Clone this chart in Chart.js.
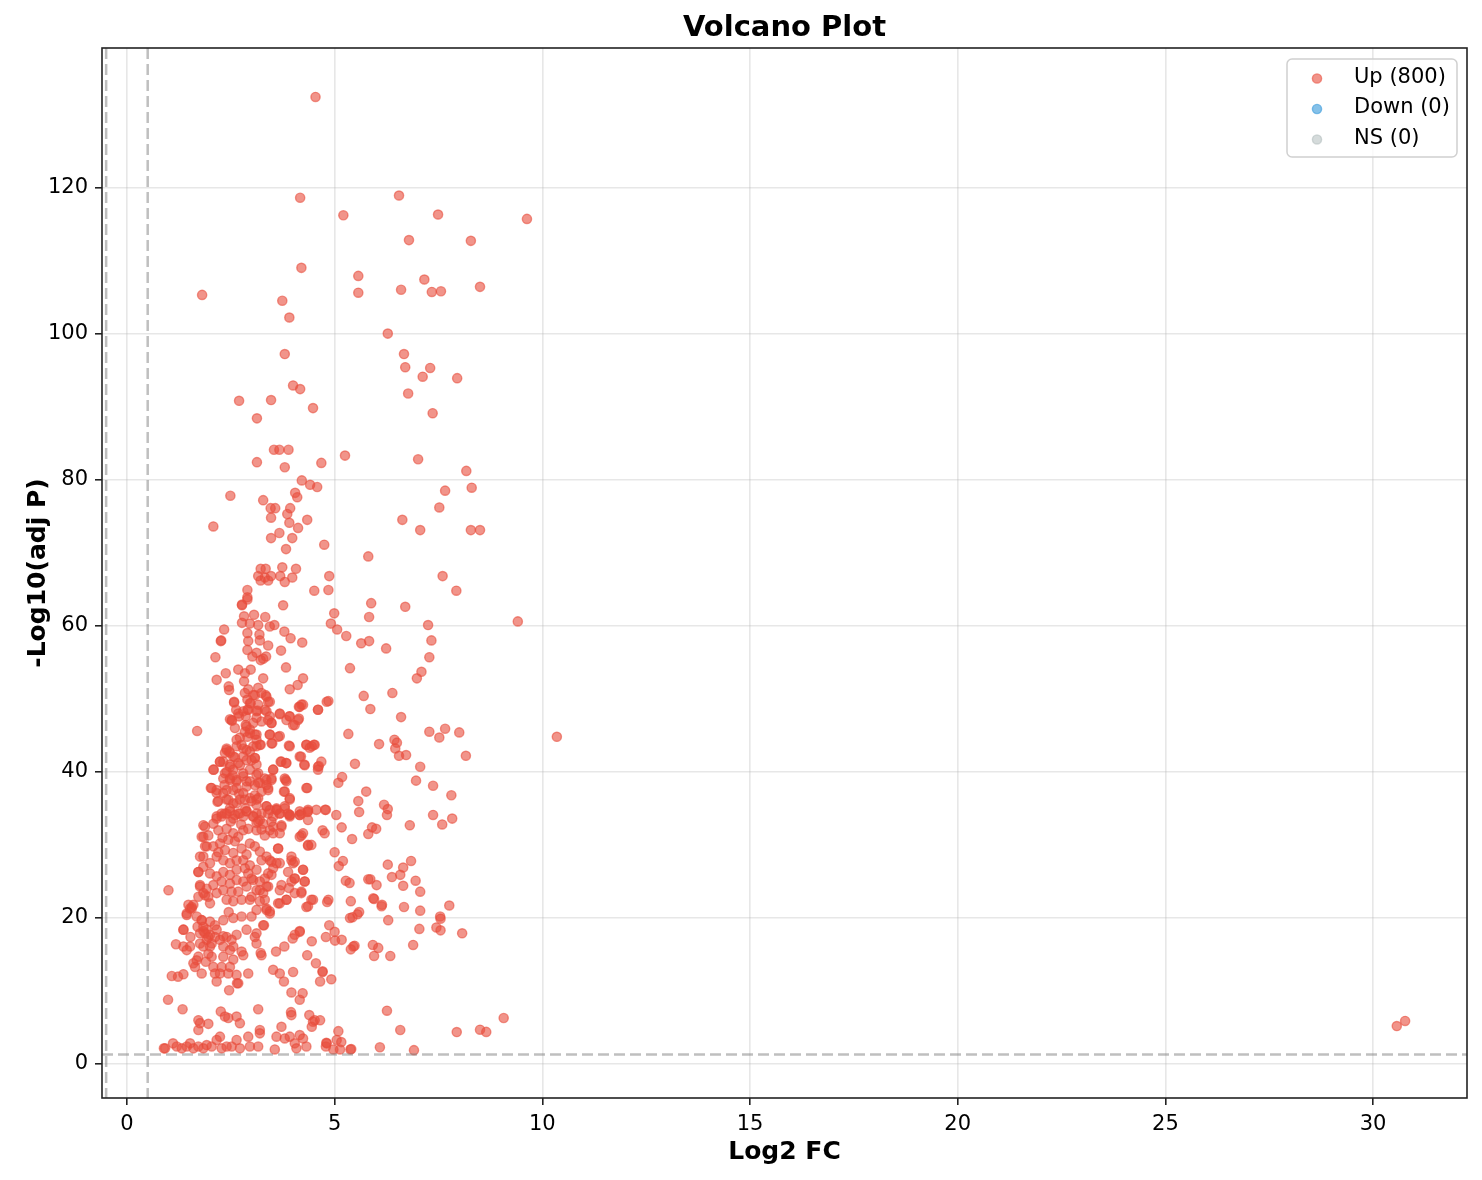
<!DOCTYPE html>
<html>
<head>
<meta charset="utf-8">
<title>Volcano Plot</title>
<script src="https://cdn.jsdelivr.net/npm/chart.js@4.4.1/dist/chart.umd.min.js"></script>
<style>
  html, body { margin: 0; padding: 0; background: #fff; }
  #wrap { width: 1482px; height: 1180px; }
</style>
</head>
<body>
<div id="wrap"><canvas id="volcano" width="1482" height="1180"></canvas></div>
<script>
// [log2 fold change, -log10 adjusted p]
const upPoints = [
  // top of the plot
  [4.54,132.4],[4.17,118.6],[6.55,118.9],[5.21,116.2],[7.49,116.3],[9.63,115.7],[6.79,112.8],[8.28,112.7],
  [4.2,109.0],[5.57,107.9],[1.81,105.3],[3.74,104.5],[5.57,105.6],[6.6,106.0],[7.16,107.4],[7.34,105.7],
  [7.56,105.8],[8.5,106.4],[3.91,102.2],[6.28,100.0],[3.8,97.2],[6.67,97.2],[6.7,95.4],[7.3,95.3],
  [7.12,94.1],[7.95,93.9],[4.0,92.9],[4.17,92.4],[2.7,90.8],[3.47,90.9],[6.77,91.8],[4.48,89.8],
  [7.36,89.1],[3.13,88.4],[3.54,84.1],[3.67,84.1],[3.89,84.1],[5.25,83.3],[3.13,82.4],[3.8,81.7],
  [4.68,82.3],[7.01,82.8],[8.17,81.2],[4.21,79.9],[4.41,79.3],[4.58,79.0],[7.66,78.5],[8.3,78.9],
  [2.49,77.8],[3.28,77.2],[4.05,78.2],[4.1,77.6],[3.46,76.1],[3.57,76.1],[3.93,76.1],[3.86,75.3],
  [7.52,76.2],[3.47,74.8],[3.91,74.1],[4.34,74.5],[2.08,73.6],[6.63,74.5],[4.12,73.4],[7.06,73.1],
  [8.28,73.1],[8.5,73.1],[3.67,72.7],[3.47,72.0],[3.98,72.0],[4.75,71.1],[3.83,70.5],[5.81,69.5],
  [3.22,67.8],[3.34,67.8],[3.74,68.0],[4.07,67.8],[3.16,66.8],[3.32,66.6],[3.47,66.8],[3.22,66.2],
  [3.4,66.2],[3.69,66.8],[3.98,66.6],[3.8,66.0],[4.87,66.8],[7.6,66.8],[2.9,64.9],[2.9,63.9],
  [4.51,64.8],[4.85,64.9],[7.93,64.8],[2.77,62.8],[3.76,62.8],[5.88,63.1],[6.7,62.6],
  // right side, middle
  [4.99,61.7],[5.83,61.2],[4.91,60.3],[5.06,59.5],[5.28,58.6],[5.64,57.6],[5.83,57.9],[6.24,56.9],
  [7.25,60.1],[7.33,58.0],[9.41,60.6],[7.28,55.7],[5.37,54.2],[7.09,53.7],[6.98,52.8],[6.39,50.8],
  [5.70,50.4],[4.85,49.7],[5.86,48.6],[6.6,47.5],[5.33,45.2],[7.28,45.5],[7.66,45.9],[7.52,44.7],
  [8.0,45.4],[10.35,44.8],[6.07,43.8],[6.44,44.4],[6.5,44.0],[6.46,43.2],[6.55,42.2],[6.72,42.3],
  [8.16,42.2],[5.49,41.1],[7.06,40.7],[5.18,39.3],[5.09,38.5],[6.96,38.8],[7.37,38.1],[7.81,36.8],
  [5.76,37.3],[5.57,36.0],[5.59,34.5],[6.19,35.5],[6.28,34.9],[6.26,34.1],[7.37,34.1],[7.83,33.6],
  [7.59,32.8],[6.81,32.7],[4.79,34.8],[5.17,32.4],[5.9,32.4],[6.0,32.2],
  // right side, low
  [4.71,32.0],[4.76,31.6],[5.42,30.8],[5.81,31.5],[5.0,29.0],[5.1,27.1],[5.2,27.8],[6.28,27.3],
  [6.65,26.9],[6.84,27.8],[6.38,25.6],[6.58,25.9],[5.81,25.3],[5.86,25.3],[6.01,24.5],[5.27,25.1],
  [5.36,24.8],[6.95,25.1],[6.65,24.4],[7.06,23.6],[4.82,22.2],[4.85,22.5],[5.39,22.3],[5.95,22.6],
  [6.14,21.8],[6.67,21.5],[7.06,21.0],[7.76,21.7],[5.37,20.0],[5.43,20.1],[5.55,20.5],[5.59,20.8],
  [6.29,19.7],[7.54,20.2],[7.55,19.9],[7.45,18.7],[7.55,18.3],[7.04,18.5],[8.07,17.9],[4.87,19.0],
  [4.79,17.4],[5.0,18.1],[5.01,16.9],[5.17,17.0],[5.39,15.7],[5.45,16.1],[5.48,16.2],[5.92,16.3],
  [6.05,15.9],[5.95,14.8],[6.34,14.8],[6.89,16.3],[4.71,12.7],[4.65,11.3],[4.92,11.6],[6.26,7.3],
  [9.07,6.3],[6.58,4.66],[7.94,4.38],[8.5,4.7],[8.65,4.4],[5.09,4.5],[4.8,2.9],[4.79,2.4],
  [4.97,2.0],[5.16,3.0],[4.65,6.0],[5.4,2.05],[6.09,2.3],[6.91,1.9],[30.57,5.2],[30.77,5.9],
  // left column, 33-64
  [2.77,62.9],[2.9,63.6],[2.82,61.3],[3.06,61.5],[3.33,61.2],[2.77,60.4],[2.96,60.3],[3.16,60.1],
  [3.44,59.9],[3.55,60.1],[2.34,59.5],[2.26,57.9],[2.27,58.0],[2.9,59.0],[2.92,57.9],[3.19,58.8],
  [3.2,58.0],[3.4,57.3],[3.79,59.2],[3.94,58.3],[4.22,57.7],[3.71,56.6],[2.13,55.7],[2.9,56.7],
  [3.02,55.8],[3.12,56.3],[3.22,55.3],[3.28,55.5],[3.35,55.8],[3.83,54.3],[2.68,54.0],[2.84,53.5],
  [2.98,54.0],[2.38,53.5],[2.16,52.6],[2.45,51.7],[2.82,52.4],[3.28,52.8],[4.24,52.8],[4.11,51.9],
  [3.92,51.3],[2.92,51.3],[3.16,51.5],[3.08,50.5],[3.34,50.5],[3.4,49.6],[2.58,49.6],[2.9,49.9],
  [2.98,49.4],[4.2,49.2],[4.14,48.9],[4.6,48.5],[2.63,48.5],[2.7,47.6],[2.9,48.5],[3.14,48.4],
  [3.36,48.3],[2.48,47.2],[2.53,47.0],[2.86,47.6],[3.12,47.4],[3.4,47.1],[3.68,47.9],[3.91,47.6],
  [3.84,47.1],[4.0,46.4],[4.14,47.3],[1.69,45.6],[2.86,46.4],[2.96,45.8],[3.48,46.7],[2.72,44.7],
  [2.9,44.8],[3.08,45.1],[3.12,44.4],[3.44,45.1],[3.68,44.9],[2.4,43.2],[2.36,42.6],[2.46,42.8],
  [2.64,43.5],[2.8,43.2],[2.96,42.8],[3.12,43.5],[3.22,43.7],[3.5,43.9],[3.9,43.6],[4.32,43.7],
  [4.45,43.5],[4.5,43.7],[4.19,42.1],[4.27,41.0],[4.62,40.8],[4.6,40.3],[2.24,41.4],[2.09,40.3],
  [2.48,41.0],[2.68,41.2],[2.88,41.6],[3.08,41.9],[3.12,41.0],[3.52,40.3],[3.7,41.4],[3.83,41.2],
  [3.82,38.9],[2.36,39.8],[2.48,39.1],[2.64,38.9],[2.8,39.4],[2.96,38.7],[3.12,39.6],[3.36,38.9],
  [3.48,39.1],[2.02,37.8],[2.16,37.1],[2.4,37.5],[2.64,37.8],[2.88,38.0],[3.16,38.5],[3.4,37.8],
  [3.78,37.3],[4.34,37.8],[2.18,35.9],[2.4,36.2],[2.56,35.7],[2.72,36.2],[2.96,36.4],[3.12,36.2],
  [3.36,35.3],[3.6,35.0],[3.8,35.3],[3.92,36.2],[4.35,34.5],[5.04,34.1],[2.16,33.9],[2.4,34.3],
  [2.56,33.6],[2.8,33.9],[3.04,33.9],[3.24,34.3],[3.52,33.9],[3.68,34.3],[3.92,33.9],[4.16,34.1],
  // dense core, 34-51
  [2.58,49.5],[2.46,51.2],[2.84,50.8],[3.04,50.5],[3.24,50.8],[3.36,50.3],[3.44,49.6],[2.96,49.4],
  [3.16,49.2],[2.52,47.1],[2.68,48.0],[2.80,48.3],[2.92,48.5],[3.12,48.3],[3.32,48.5],[3.44,47.6],
  [3.48,46.7],[3.24,46.9],[3.04,46.7],[2.88,46.2],[3.68,48.0],[3.92,47.6],[4.04,46.4],[4.16,48.9],
  [4.24,49.2],[4.60,48.5],[4.81,49.6],[4.12,47.1],[2.96,45.3],[3.12,45.1],[2.84,45.5],[2.64,44.4],
  [2.76,43.7],[2.88,43.0],[3.04,43.5],[3.20,43.7],[3.44,45.1],[3.64,44.8],[3.48,43.9],[2.40,43.0],
  [2.48,42.6],[2.32,41.4],[2.56,42.1],[2.80,42.1],[3.00,41.6],[3.08,41.9],[2.72,40.9],[2.48,40.7],
  [2.24,41.4],[3.92,43.5],[4.32,43.7],[4.52,43.7],[4.40,43.3],[4.16,42.1],[4.28,40.9],[4.60,40.7],
  [4.68,41.4],[3.72,41.4],[3.84,41.2],[2.08,40.3],[2.40,40.0],[2.56,40.3],[2.80,39.8],[2.96,40.3],
  [3.16,39.8],[3.52,40.3],[3.32,39.1],[3.48,38.9],[2.32,39.1],[2.48,38.9],[2.64,38.7],[2.88,38.7],
  [3.08,38.2],[3.20,38.5],[3.36,38.2],[3.40,37.5],[3.80,39.1],[3.84,38.7],[2.04,37.8],[2.16,37.5],
  [2.32,37.1],[2.56,37.5],[2.80,37.1],[3.08,36.8],[3.16,36.4],[3.24,37.3],[3.80,37.3],[4.32,37.8],
  [2.20,36.0],[2.44,36.2],[2.64,35.7],[2.84,36.2],[3.00,36.0],[3.12,35.5],[3.36,35.3],[3.60,34.8],
  [3.92,36.4],[3.80,35.0],[2.28,34.3],[2.48,35.0],[2.68,34.3],[2.88,34.6],[3.12,34.3],[3.44,34.8],
  [3.68,34.3],[3.92,34.1],[4.16,34.1],[4.36,34.6],[4.77,34.8],
  // dense core, 17-35
  [1.88,32.5],[1.84,31.1],[1.96,31.3],[2.08,32.9],[2.16,33.6],[2.28,33.9],[2.36,34.3],[2.48,34.6],
  [2.60,34.1],[2.72,34.3],[2.88,34.6],[3.04,33.9],[3.16,33.2],[3.28,32.9],[3.48,33.2],[3.72,32.7],
  [3.52,31.6],[3.44,32.0],[3.32,31.3],[3.12,32.0],[2.92,32.2],[2.80,32.0],[2.20,32.0],[2.40,32.2],
  [2.56,31.6],[2.68,31.1],[2.44,30.7],[2.24,30.2],[2.08,29.8],[1.92,29.8],[2.36,29.3],[2.56,28.9],
  [2.76,29.5],[2.96,30.2],[3.08,29.8],[2.88,28.7],[2.64,27.9],[2.48,27.5],[2.32,27.9],[2.16,28.4],
  [2.00,27.5],[1.84,28.4],[3.20,29.1],[3.36,28.4],[3.48,27.7],[3.64,29.5],[3.68,27.5],[3.92,34.1],
  [4.16,34.6],[4.36,33.4],[4.20,31.3],[4.44,30.0],[4.36,29.9],[3.96,28.4],[4.04,27.7],[1.72,26.3],
  [2.00,26.1],[2.16,25.7],[2.32,26.3],[2.48,25.9],[2.64,26.6],[2.84,26.8],[2.96,27.2],[3.12,26.6],
  [3.24,27.9],[3.40,26.1],[3.52,26.8],[3.32,25.4],[3.20,25.0],[3.00,25.4],[2.80,25.0],[2.64,25.2],
  [2.48,24.7],[2.28,25.0],[2.08,24.5],[1.92,24.0],[1.76,24.5],[3.88,26.3],[4.04,25.4],[4.24,26.6],
  [4.28,25.0],[3.72,24.5],[3.68,23.8],[3.40,24.3],[3.28,23.4],[3.12,23.8],[2.88,24.3],[2.68,23.6],
  [2.52,23.6],[2.32,23.8],[2.16,23.4],[1.96,22.9],[1.84,23.4],[1.60,21.8],[1.44,20.6],[1.52,21.3],
  [2.00,22.0],[2.40,22.5],[2.56,22.3],[2.76,22.5],[3.00,22.9],[3.20,22.3],[3.36,21.3],[3.44,20.9],
  [3.64,22.0],[3.84,22.5],[4.04,23.4],[4.20,23.6],[4.44,22.5],[4.36,21.6],[1.68,20.2],[1.80,19.7],
  [2.00,19.5],[2.12,19.0],[2.32,19.7],[2.56,20.0],[2.76,20.2],[3.00,20.2],[3.28,19.0],[1.84,18.2],
  [2.00,17.7],[2.32,17.5],[2.64,17.7],[2.88,18.4],[3.12,17.9],[1.36,18.4],[4.04,17.7],[4.16,18.2],
  [2.30,31.0],[2.60,30.5],[2.75,32.8],[2.50,33.2],[2.70,37.0],[2.55,39.5],[2.35,38.2],[2.85,35.0],
  [2.60,42.0],[2.20,29.0],[2.45,20.8],[1.90,14.0],[1.70,18.8],[2.60,46.0],
  // lower left and baseline
  [1.0,23.8],[0.99,8.8],[1.34,7.5],[0.89,2.15],[0.92,2.15],[1.11,2.83],[1.2,2.4],[1.32,2.15],
  [1.44,2.4],[1.52,2.83],[1.6,2.15],[1.72,2.4],[1.84,2.15],[1.92,2.6],[2.04,2.4],[2.16,3.3],
  [2.24,3.75],[2.28,2.15],[2.4,2.4],[2.52,2.4],[2.64,3.3],[2.72,2.15],[2.92,3.75],[2.96,2.4],
  [3.16,2.4],[3.2,4.66],[3.2,4.2],[3.56,2.0],[3.6,3.75],[3.72,5.1],[3.8,3.5],[3.92,3.75],
  [4.04,2.83],[4.08,2.15],[4.16,3.97],[4.24,3.5],[4.32,2.4],[4.81,2.83],[5.05,3.3],[5.13,2.0],
  [5.38,2.0],[1.72,6.0],[1.76,5.6],[1.96,5.5],[1.72,4.66],[2.26,7.2],[2.36,6.5],[2.44,6.3],
  [2.64,6.5],[2.72,5.6],[3.16,7.5],[3.95,7.1],[3.96,6.7],[4.39,6.7],[4.48,5.8],[4.45,5.1],
  [4.52,6.0],[1.18,16.4],[1.08,12.05],[1.23,11.96],[1.36,12.3],[1.36,18.4],[1.56,21.5],[1.44,20.4],
  [1.53,17.4],[1.68,14.2],[1.36,16.1],[1.44,15.6],[1.52,16.1],[1.6,13.8],[1.64,13.3],[1.72,14.7],
  [1.76,16.5],[1.8,12.4],[1.8,19.7],[1.84,18.8],[1.92,18.4],[1.96,17.4],[2.0,16.1],[2.04,14.7],
  [2.08,13.3],[2.12,12.4],[2.16,11.3],[1.88,17.9],[1.92,17.0],[1.76,17.9],[1.84,16.1],[1.96,15.1],
  [2.04,16.5],[2.12,17.4],[2.16,18.4],[2.24,17.0],[2.32,16.1],[2.4,17.4],[2.32,14.7],[2.48,15.6],
  [2.28,13.3],[2.48,13.3],[2.56,14.3],[2.44,12.4],[2.64,12.2],[2.68,11.05],[2.24,12.4],[2.52,17.0],
  [2.56,16.1],[3.3,19.0],[3.08,17.4],[3.12,16.5],[2.76,15.4],[2.8,14.9],[2.92,12.4],[2.65,11.05],
  [2.46,10.1],[4.48,22.5],[4.32,21.5],[5.93,22.7],[6.13,21.6],[4.45,16.8],[4.16,18.1],[3.99,17.2],
  [3.79,16.1],[3.59,15.4],[3.24,14.9],[3.22,15.2],[3.52,12.9],[3.68,12.4],[4.0,12.6],[3.78,11.3],
  [4.34,14.9],[4.55,13.8],[4.71,12.6],[3.96,9.8],[4.23,9.7],[4.16,8.8],[4.24,26.6],[4.28,25.0],
  [4.04,25.4],[3.96,25.0],[3.9,24.1],[4.2,23.4],[3.84,22.5],[3.68,22.0],[3.36,21.1],[3.44,20.6],
  [3.96,27.9],[4.0,27.5],[4.16,31.1],[4.24,31.6],[4.36,30.0],[4.2,34.3],[4.36,34.8],[4.56,34.8],
  [3.64,29.5],[3.68,31.6],[3.52,32.5],[3.72,32.5],[3.88,34.3],[3.6,34.8],[3.4,34.3],[3.2,33.4],
  [3.24,32.1],[3.12,33.0],[3.44,27.9],[3.6,27.5],[3.48,25.9],[3.36,24.3],[3.2,23.8],[3.32,22.5],
  [3.12,21.1],[2.96,22.5],[3.04,25.2],[2.92,26.1],[2.8,27.9],[1.84,32.7],[1.8,31.1],[1.88,29.8],
  [1.76,28.4],[1.84,27.0],[1.72,26.3],[1.76,24.3],[1.72,22.9],[1.88,23.1],[1.48,21.8],[1.56,21.3]
];
const downPoints = [];
const nsPoints = [];

const seriesLabels = ["Up", "Down", "NS"];
const seriesColors = ["rgba(231,76,60,0.6)", "rgba(52,152,219,0.6)", "rgba(149,165,166,0.4)"];
const xTicks = [0, 5, 10, 15, 20, 25, 30];
const yTicks = [0, 20, 40, 60, 80, 100, 120];
const fcCutoffs = [-0.5, 0.5];
const pCutoff = 1.301;   // -log10(0.05)

const FONT = "DejaVu Sans";

const toXY = pts => pts.map(p => ({ x: p[0], y: p[1] }));

const decor = {
  id: "decor",
  afterDatasetsDraw(chart) {
    const { ctx, chartArea: a, scales: { x, y } } = chart;
    ctx.save();
    ctx.beginPath();
    ctx.rect(a.left, a.top, a.width, a.height);
    ctx.clip();
    ctx.strokeStyle = "rgba(128,128,128,0.5)";
    ctx.lineWidth = 2.5;
    ctx.setLineDash([11, 5]);
    fcCutoffs.forEach(v => {
      const px = x.getPixelForValue(v);
      ctx.beginPath();
      ctx.moveTo(px, a.top);
      ctx.lineTo(px, a.bottom);
      ctx.stroke();
    });
    const py = y.getPixelForValue(pCutoff);
    ctx.beginPath();
    ctx.moveTo(a.left, py);
    ctx.lineTo(a.right, py);
    ctx.stroke();
    ctx.restore();
  },
  afterDraw(chart) {
    const { ctx, chartArea: a } = chart;
    ctx.save();
    // axes frame
    ctx.strokeStyle = "#222";
    ctx.lineWidth = 1.6;
    ctx.strokeRect(a.left, a.top, a.width, a.height);

    // title and axis labels
    ctx.fillStyle = "#000";
    ctx.textAlign = "center";
    ctx.textBaseline = "middle";
    ctx.font = "bold 29px " + FONT;
    ctx.fillText("Volcano Plot", (a.left + a.right) / 2, 28);
    ctx.font = "bold 25px " + FONT;
    ctx.fillText("Log2 FC", (a.left + a.right) / 2, 1152);
    ctx.save();
    ctx.translate(38, (a.top + a.bottom) / 2);
    ctx.rotate(-Math.PI / 2);
    ctx.fillText("-Log10(adj P)", 0, 0);
    ctx.restore();

    // legend, top right inside the axes
    const bw = 170, bh = 98;
    const bx = a.right - 10 - bw, by = a.top + 11;
    ctx.beginPath();
    ctx.roundRect(bx, by, bw, bh, 5);
    ctx.fillStyle = "rgba(255,255,255,0.8)";
    ctx.fill();
    ctx.strokeStyle = "#d0d0d0";
    ctx.lineWidth = 1.5;
    ctx.stroke();
    ctx.font = "21px " + FONT;
    ctx.textAlign = "left";
    chart.data.datasets.forEach((ds, i) => {
      const ry = by + 19.5 + i * 30.5;
      ctx.beginPath();
      ctx.arc(bx + 30, ry, 4.6, 0, Math.PI * 2);
      ctx.fillStyle = ds.backgroundColor;
      ctx.fill();
      ctx.strokeStyle = ds.borderColor;
      ctx.lineWidth = 1.4;
      ctx.stroke();
      ctx.fillStyle = "#000";
      ctx.fillText(`${ds.label} (${ds.data.length})`, bx + 67, ry - 1);
    });
    ctx.restore();
  }
};

const gridOpts = {
  color: "rgba(176,176,176,0.3)",
  lineWidth: 1.6,
  drawTicks: true,
  tickLength: 7,
  tickColor: "#222",
  tickWidth: 1.6
};

new Chart(document.getElementById("volcano"), {
  type: "scatter",
  data: {
    datasets: [upPoints, downPoints, nsPoints].map((pts, i) => ({
      label: seriesLabels[i],
      data: toXY(pts),
      backgroundColor: seriesColors[i],
      borderColor: seriesColors[i],
      borderWidth: 1.4,
      pointRadius: 4.6
    }))
  },
  options: {
    responsive: false,
    animation: false,
    devicePixelRatio: 1,
    events: [],
    layout: { padding: { left: 0, right: 15, top: 48, bottom: 0 } },
    plugins: {
      legend: { display: false },
      tooltip: { enabled: false },
      title: { display: false }
    },
    scales: {
      x: {
        type: "linear",
        min: -0.6,
        max: 32.26,
        afterBuildTicks: axis => { axis.ticks = xTicks.map(v => ({ value: v })); },
        afterFit: axis => { axis.height = 82; },
        ticks: { font: { family: FONT, size: 21 }, color: "#000", padding: 7, maxRotation: 0 },
        grid: gridOpts,
        border: { display: false }
      },
      y: {
        type: "linear",
        min: -4.65,
        max: 139.1,
        afterBuildTicks: axis => { axis.ticks = yTicks.map(v => ({ value: v })); },
        afterFit: axis => { axis.width = 102; },
        ticks: { font: { family: FONT, size: 21 }, color: "#000", padding: 7 },
        grid: gridOpts,
        border: { display: false }
      }
    }
  },
  plugins: [decor]
});
</script>
</body>
</html>
